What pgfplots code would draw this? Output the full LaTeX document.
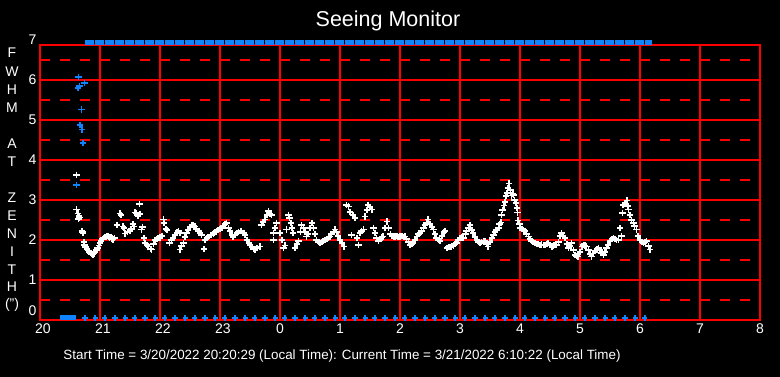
\documentclass[border=0pt]{standalone}
\usepackage{pgfplots}
\pgfplotsset{compat=1.18}
\usepackage{fontspec}
\setmainfont{Liberation Sans}
\definecolor{bluC}{RGB}{16,132,255}

\pgfplotstableread{
x y
20.61 3.63
20.61 2.76
20.63 2.66
20.65 2.60
20.64 2.52
20.66 2.56
20.70 2.22
20.72 2.18
20.71 2.20
20.73 1.95
20.74 1.88
20.76 1.82
20.78 1.77
20.80 1.74
20.82 1.70
20.84 1.68
20.86 1.66
20.88 1.64
20.90 1.66
20.92 1.70
20.94 1.75
20.96 1.80
20.98 1.86
21.00 1.93
21.02 1.98
21.04 2.02
21.06 2.05
21.08 2.07
21.10 2.08
21.12 2.10
21.14 2.09
21.16 2.06
21.18 2.08
21.20 2.04
21.22 2.01
21.24 2.05
21.28 2.38
21.33 2.66
21.35 2.62
21.38 2.34
21.40 2.30
21.42 2.16
21.46 2.20
21.50 2.22
21.52 2.28
21.55 2.40
21.57 2.34
21.58 2.69
21.61 2.67
21.63 2.60
21.66 2.90
21.67 2.65
21.69 2.26
21.71 2.33
21.73 2.05
21.75 1.92
21.78 1.88
21.81 1.84
21.84 1.78
21.86 1.76
21.89 1.90
21.92 2.00
21.95 2.02
21.97 2.05
22.00 2.06
22.03 2.10
22.06 2.51
22.07 2.43
22.10 2.28
22.12 2.25
22.16 1.92
22.19 2.00
22.22 2.05
22.25 2.12
22.28 2.19
22.31 2.22
22.33 2.17
22.33 1.76
22.36 1.85
22.39 1.92
22.42 2.08
22.44 2.17
22.47 2.25
22.50 2.32
22.53 2.38
22.56 2.36
22.58 2.34
22.61 2.28
22.64 2.22
22.67 2.18
22.69 2.13
22.73 1.78
22.75 2.00
22.78 2.05
22.81 2.08
22.84 2.12
22.86 2.13
22.89 2.15
22.92 2.20
22.94 2.22
22.97 2.25
23.00 2.28
23.03 2.30
23.06 2.36
23.08 2.40
23.11 2.43
23.14 2.30
23.17 2.22
23.20 2.12
23.22 2.07
23.25 2.12
23.28 2.17
23.31 2.20
23.34 2.22
23.36 2.22
23.39 2.18
23.42 2.13
23.45 2.00
23.48 1.92
23.50 1.88
23.53 1.82
23.56 1.78
23.58 1.76
23.62 1.80
23.67 1.84
23.69 2.38
23.72 2.45
23.75 2.51
23.78 2.62
23.81 2.72
23.83 2.66
23.86 2.63
23.89 2.17
23.89 2.00
23.92 2.30
23.94 2.43
24.00 2.17
24.03 2.00
24.06 1.80
24.08 1.86
24.11 2.26
24.14 2.63
24.16 2.55
24.18 2.43
24.20 2.30
24.22 2.17
24.25 1.80
24.28 1.90
24.31 1.97
24.34 2.20
24.36 2.38
24.39 2.30
24.42 2.20
24.44 2.09
24.47 2.15
24.50 2.30
24.53 2.43
24.56 2.30
24.58 2.15
24.61 2.00
24.64 1.95
24.67 1.92
24.70 1.95
24.72 1.98
24.75 2.00
24.78 2.03
24.81 2.06
24.83 2.09
24.86 2.15
24.89 2.20
24.92 2.26
24.94 2.20
24.97 2.10
25.00 2.00
25.03 1.92
25.07 1.84
25.11 2.88
25.14 2.84
25.17 2.70
25.19 2.13
25.22 2.63
25.25 2.55
25.28 2.05
25.31 1.88
25.33 2.17
25.36 2.22
25.39 2.26
25.42 2.59
25.45 2.75
25.47 2.88
25.50 2.82
25.53 2.76
25.56 2.30
25.58 2.17
25.61 2.05
25.64 1.97
25.67 2.02
25.70 2.06
25.72 2.09
25.75 2.30
25.78 2.46
25.81 2.30
25.84 2.15
25.87 2.10
25.90 2.08
25.92 2.09
25.95 2.10
25.97 2.08
26.00 2.09
26.03 2.10
26.06 2.08
26.08 2.09
26.11 2.02
26.14 1.95
26.17 1.88
26.20 1.90
26.22 1.92
26.25 2.00
26.28 2.09
26.31 2.15
26.33 2.18
26.36 2.22
26.39 2.30
26.42 2.38
26.44 2.43
26.47 2.51
26.50 2.40
26.53 2.32
26.56 2.26
26.58 2.15
26.61 2.05
26.64 2.00
26.67 1.97
26.70 2.10
26.73 2.20
26.75 2.22
26.78 1.80
26.81 1.82
26.83 1.83
26.86 1.84
26.89 1.86
26.92 1.90
26.94 1.92
26.97 2.00
27.00 2.05
27.03 2.06
27.06 2.05
27.09 2.15
27.11 2.22
27.14 2.30
27.17 2.38
27.20 2.25
27.22 2.17
27.25 2.08
27.28 2.00
27.31 1.95
27.33 1.92
27.36 1.95
27.39 1.97
27.42 1.97
27.44 1.90
27.47 1.84
27.50 1.95
27.53 2.05
27.56 2.13
27.58 2.20
27.61 2.25
27.64 2.30
27.66 2.40
27.68 2.44
27.69 2.63
27.71 2.75
27.73 2.86
27.75 2.95
27.77 3.10
27.78 3.17
27.80 3.30
27.82 3.41
27.84 3.25
27.86 3.11
27.88 3.15
27.89 3.13
27.91 3.00
27.93 2.92
27.95 2.80
27.96 2.69
27.97 2.49
27.99 2.40
28.00 2.30
28.03 2.28
28.06 2.25
28.08 2.22
28.11 2.15
28.14 2.09
28.17 2.02
28.19 1.97
28.22 1.95
28.25 1.92
28.28 1.90
28.31 1.90
28.33 1.88
28.36 1.89
28.39 1.88
28.42 1.88
28.45 1.90
28.47 1.92
28.50 1.88
28.53 1.84
28.56 1.86
28.58 1.87
28.61 1.88
28.64 1.95
28.67 2.10
28.69 2.17
28.72 2.10
28.75 2.05
28.78 1.90
28.81 1.80
28.83 1.85
28.86 1.92
28.89 1.75
28.92 1.63
28.94 1.60
28.97 1.59
29.00 1.70
29.03 1.84
29.06 1.88
29.08 1.86
29.11 1.84
29.14 1.75
29.17 1.65
29.19 1.59
29.22 1.66
29.25 1.72
29.28 1.76
29.31 1.80
29.33 1.75
29.36 1.68
29.39 1.63
29.42 1.70
29.44 1.80
29.47 1.88
29.50 1.97
29.53 2.02
29.56 2.05
29.58 2.03
29.61 2.00
29.64 2.00
29.67 2.30
29.69 2.10
29.71 2.68
29.72 2.88
29.75 2.90
29.78 2.99
29.80 2.85
29.81 2.76
29.83 2.63
29.86 2.50
29.89 2.43
29.91 2.35
29.94 2.26
29.97 2.10
30.00 2.00
30.03 1.95
30.06 1.92
30.08 1.95
30.11 1.97
30.14 1.85
30.17 1.76
}\whitedata

\pgfplotstableread{
x y
20.64 6.08
20.74 5.93
20.63 5.80
20.66 5.85
20.69 5.26
20.67 4.88
20.70 4.76
20.72 4.43
20.61 3.37
}\bluedata

\pgfplotstableread{
x y
20.75 0.05
20.92 0.05
21.08 0.05
21.25 0.05
21.42 0.05
21.58 0.05
21.75 0.05
21.92 0.05
22.08 0.05
22.25 0.05
22.42 0.05
22.58 0.05
22.75 0.05
22.92 0.05
23.08 0.05
23.25 0.05
23.42 0.05
23.58 0.05
23.75 0.05
23.92 0.05
24.08 0.05
24.25 0.05
24.42 0.05
24.58 0.05
24.75 0.05
24.92 0.05
25.08 0.05
25.25 0.05
25.42 0.05
25.58 0.05
25.75 0.05
25.92 0.05
26.08 0.05
26.25 0.05
26.42 0.05
26.58 0.05
26.75 0.05
26.92 0.05
27.08 0.05
27.25 0.05
27.42 0.05
27.58 0.05
27.75 0.05
27.92 0.05
28.08 0.05
28.25 0.05
28.42 0.05
28.58 0.05
28.75 0.05
28.92 0.05
29.08 0.05
29.25 0.05
29.42 0.05
29.58 0.05
29.75 0.05
29.92 0.05
30.08 0.05
}\bottomdata

\begin{document}
\begin{tikzpicture}[x=1pt,y=1pt]
\fill[black] (0pt,0pt) rectangle (780pt,377pt);
\begin{axis}[
  at={(40pt,57pt)}, anchor=south west,
  width=720pt, height=275pt, scale only axis,
  xmin=20, xmax=32, ymin=0, ymax=6.875,
  axis line style={red, line width=1.4pt},
  xtick={20,...,32},
  xticklabels={\hspace*{6pt}20,\hspace*{6pt}21,\hspace*{6pt}22,\hspace*{6pt}23,0,1,2,3,4,5,6,7,8},
  ytick={1,...,6},
  minor ytick={0.5,1.5,...,6.5},
  grid=both,
  major grid style={red, line width=1.4pt},
  minor grid style={red, line width=1.4pt, dash pattern=on 10pt off 10pt},
  major tick length=0pt, minor tick length=0pt,
  tick style={draw=none},
  ticklabel style={white, font=\fontsize{14}{14}\selectfont},
  /pgf/number format/assume math mode=true,
  clip=false,
]
\addplot[only marks, mark=+, mark size=3.2pt, white, line width=1.7pt] table {\whitedata};
\addplot[only marks, mark=+, mark size=3.2pt, bluC, line width=1.6pt] table {\bluedata};
\addplot[only marks, mark=+, mark size=2.6pt, bluC, line width=1.5pt] table {\bottomdata};
\addplot[draw=bluC, line width=5pt, dash pattern=on 9pt off 1pt] coordinates {(20.75,6.945) (30.2,6.945)};
\addplot[draw=bluC, line width=5pt] coordinates {(20.33,0.05) (20.6,0.05)};
\node[anchor=east, white, font=\fontsize{14}{14}\selectfont] at (axis cs:20,7) {7};
\node[anchor=east, white, font=\fontsize{14}{14}\selectfont] at (axis cs:20,0.23) {0};
\end{axis}
\node[anchor=base, white, font=\fontsize{21.5}{21.5}\selectfont] at (388pt,350pt) {Seeing Monitor};
\node[anchor=base, white, font=\fontsize{13.4}{13.4}\selectfont] at (342pt,17.5pt) {Start Time = 3/20/2022 20:20:29 (Local Time): Current Time = 3/21/2022 6:10:22 (Local Time)};
\foreach \t/\py in {F/53, W/72, H/90, M/108, A/144, T/162, Z/198, E/216, N/234, I/252, T/270, H/287, (")/304} {
  \node[anchor=base, white, font=\fontsize{14}{14}\selectfont, inner sep=0pt] at (12pt,{(377-\py-5)*1pt}) {\t};
}
\pgfresetboundingbox
\useasboundingbox (0pt,0pt) rectangle (780pt,377pt);
\end{tikzpicture}
\end{document}
